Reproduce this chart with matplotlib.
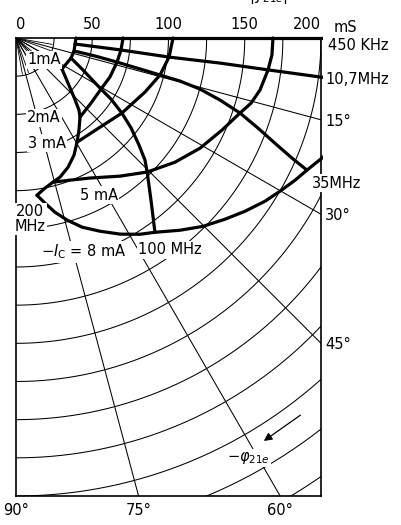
import numpy as np
import matplotlib.pyplot as plt
from matplotlib.patches import Rectangle

W, H = 402, 525

# |y21e| in mS and -phi21e in degrees
# constant collector current curves, 450 kHz -> 200 MHz
ic1_mag = [39.3, 38.9, 39.0, 38.4, 37.2, 36.4]
ic1_phi = [0, 5.8, 12.6, 20.0, 26.1, 34.0]
ic2_mag = [70.2, 69.3, 68.1, 66.7, 65.0, 65.1, 66.7]
ic2_phi = [0, 6.5, 13.4, 22.5, 31.0, 40.9, 51.0]
ic3_mag = [103.0, 101.1, 97.5, 91.7, 85.1, 80.3, 79.1]
ic3_phi = [0, 7.1, 14.4, 22.7, 35.3, 46.7, 59.6]
ic5_mag = [168.5, 168.2, 166.6, 163.6, 159.9, 154.9, 147.9, 140.6, 132.2, 122.9,
           113.3, 103.8, 99.6, 97.5]
ic5_phi = [0, 3.8, 7.2, 12.0, 15.5, 18.5, 24.1, 30.9, 38.0, 45.6,
           53.0, 62.1, 69.2, 75.6]
ic8_mag = [260.0, 254.1, 215.5, 209.5, 205.3, 200.1, 195.2, 188.2, 181.3, 173.9,
           165.6, 156.5, 152.1, 145.5, 138.0, 131.3, 123.9, 116.9, 109.9, 103.9]
ic8_phi = [0, 7.7, 21.4, 24.4, 27.0, 30.1, 33.2, 37.1, 40.9, 45.2,
           49.5, 54.4, 57.7, 62.0, 66.5, 70.7, 74.3, 77.4, 80.0, 82.4]

# constant frequency curves, 1 mA -> 8 mA
f450k_mag = [39.3, 70.2, 103.0, 168.5, 260.0]
f450k_phi = [0, 0, 0, 0, 0]
f10m7_mag = [38.9, 69.3, 101.1, 134.8, 166.6, 202.3, 254.1]
f10m7_phi = [5.8, 6.5, 7.1, 7.0, 7.2, 7.3, 7.7]
f35m_mag = [39.0, 53.1, 68.1, 83.8, 97.5, 111.2, 125.2, 139.8, 154.9, 169.3,
            183.3, 197.4, 209.5]
f35m_phi = [12.6, 12.8, 13.4, 14.0, 14.4, 14.7, 15.5, 16.9, 18.5, 20.4,
            22.1, 23.5, 24.4]
f100m_mag = [38.4, 48.7, 65.0, 74.0, 85.1, 95.8, 106.9, 116.4, 122.9, 138.3, 156.5]
f100m_phi = [20.0, 25.5, 31.0, 32.7, 35.3, 38.0, 41.0, 43.4, 45.6, 50.2, 54.4]
f200m_mag = [36.4, 45.1, 54.2, 62.7, 66.7, 73.1, 79.1, 85.6, 91.2, 95.6, 97.5,
             100.2, 103.9]
f200m_phi = [34.0, 40.9, 45.5, 48.8, 51.0, 55.6, 59.6, 63.6, 68.0, 72.4, 75.6,
             79.1, 82.4]

mag_ticks = [0, 50, 100, 150, 200]
right_angles = [15, 30, 45]
bottom_angles = [90, 75, 60]


def xy(mag, phi):
    p = np.radians(phi)
    m = np.asarray(mag, dtype=float)
    return m * np.cos(p), m * np.sin(p)


def px(x, y):
    return x / W, 1 - y / H


font = dict(family='DejaVu Sans', size=10.5)
white = dict(boxstyle='square,pad=0.08', fc='white', ec='none')

fig = plt.figure(figsize=(W / 100, H / 100), dpi=100)
ax = fig.add_axes([16 / W, 1 - 496 / H, 305 / W, 458 / H])
ax.set_xlim(0, 200)
ax.set_ylim(300, 0)

# polar grid: circles every 25 mS, rays every 15 deg
t = np.linspace(0, 90, 200)
for r in range(25, 376, 25):
    ax.plot(*xy(np.full_like(t, r), t), color='k', lw=0.75)
for a in [15, 30, 45, 60, 75]:
    ax.plot(*xy([0, 400], [a, a]), color='k', lw=0.75)
for a in np.arange(10, 90, 10):
    ax.plot(*xy([0, 24], [a, a]), color='k', lw=0.6)

clip = Rectangle((-0.006, -0.006), 1.012, 1.012, transform=ax.transAxes)
thick = dict(color='k', lw=2.3, solid_joinstyle='round', solid_capstyle='round')
for m, p in [(ic1_mag, ic1_phi), (ic2_mag, ic2_phi), (ic3_mag, ic3_phi),
             (ic5_mag, ic5_phi), (ic8_mag, ic8_phi),
             (f450k_mag, f450k_phi), (f10m7_mag, f10m7_phi), (f35m_mag, f35m_phi),
             (f100m_mag, f100m_phi), (f200m_mag, f200m_phi)]:
    ln, = ax.plot(*xy(m, p), **thick)
    ln.set_clip_path(clip)

for s in ax.spines.values():
    s.set_linewidth(1.2)

ax.set_xticks(mag_ticks)
ax.set_xticklabels([str(v) for v in mag_ticks], **font)
ax.tick_params(axis='x', top=True, labeltop=True, bottom=False, labelbottom=False,
               length=0, pad=4)
top_labels = [lb for lb in ax.get_xticklabels(which='major')]
top_labels[0].set_horizontalalignment('left')
top_labels[-1].set_horizontalalignment('right')
ax.set_yticks([200 * np.tan(np.radians(a)) for a in right_angles])
ax.set_yticklabels([f'{a}°' for a in right_angles], **font)
ax.tick_params(axis='y', left=False, labelleft=False, right=True, labelright=True,
               length=0, pad=3)
sec = ax.secondary_xaxis('bottom')
sec.set_xticks([300 / np.tan(np.radians(a)) for a in bottom_angles])
sec.set_xticklabels([f'{a}°' for a in bottom_angles], **font)
sec.tick_params(length=0, pad=5)
sec.spines['bottom'].set_visible(False)

# text labels
fig.text(*px(345, 27), 'mS', ha='center', va='center', **font)
fig.text(*px(268, 0), '|y$_{21e}$|', ha='center', va='baseline', **font)
fig.text(*px(358, 45), '450 KHz', ha='center', va='center', **font)
fig.text(*px(357, 80), '10,7MHz', ha='center', va='center', **font)
fig.text(*px(337, 183), '35MHz', ha='center', va='center', bbox=white, **font)
fig.text(*px(44, 60), '1mA', ha='center', va='center', bbox=white, **font)
fig.text(*px(44, 118), '2mA', ha='center', va='center', bbox=white, **font)
fig.text(*px(47, 143), '3 mA', ha='center', va='center', bbox=white, **font)
fig.text(*px(99, 195), '5 mA', ha='center', va='center', bbox=white, **font)
fig.text(*px(30, 219), '200\nMHz', ha='center', va='center', linespacing=0.95,
         bbox=white, **font)
fig.text(*px(84, 252), '$-I_\\mathrm{C}$ = 8 mA', ha='center', va='center',
         bbox=white, **font)
fig.text(*px(170, 250), '100 MHz', ha='center', va='center', bbox=white, **font)
fig.text(*px(248, 458), '$-\\varphi_{21e}$', ha='center', va='center',
         bbox=white, **font)

ax.annotate('', xy=(161, 265), xytext=(188, 246),
            arrowprops=dict(arrowstyle='-|>', color='k', lw=0.9, mutation_scale=12))

fig.savefig('out.png', dpi=100)
